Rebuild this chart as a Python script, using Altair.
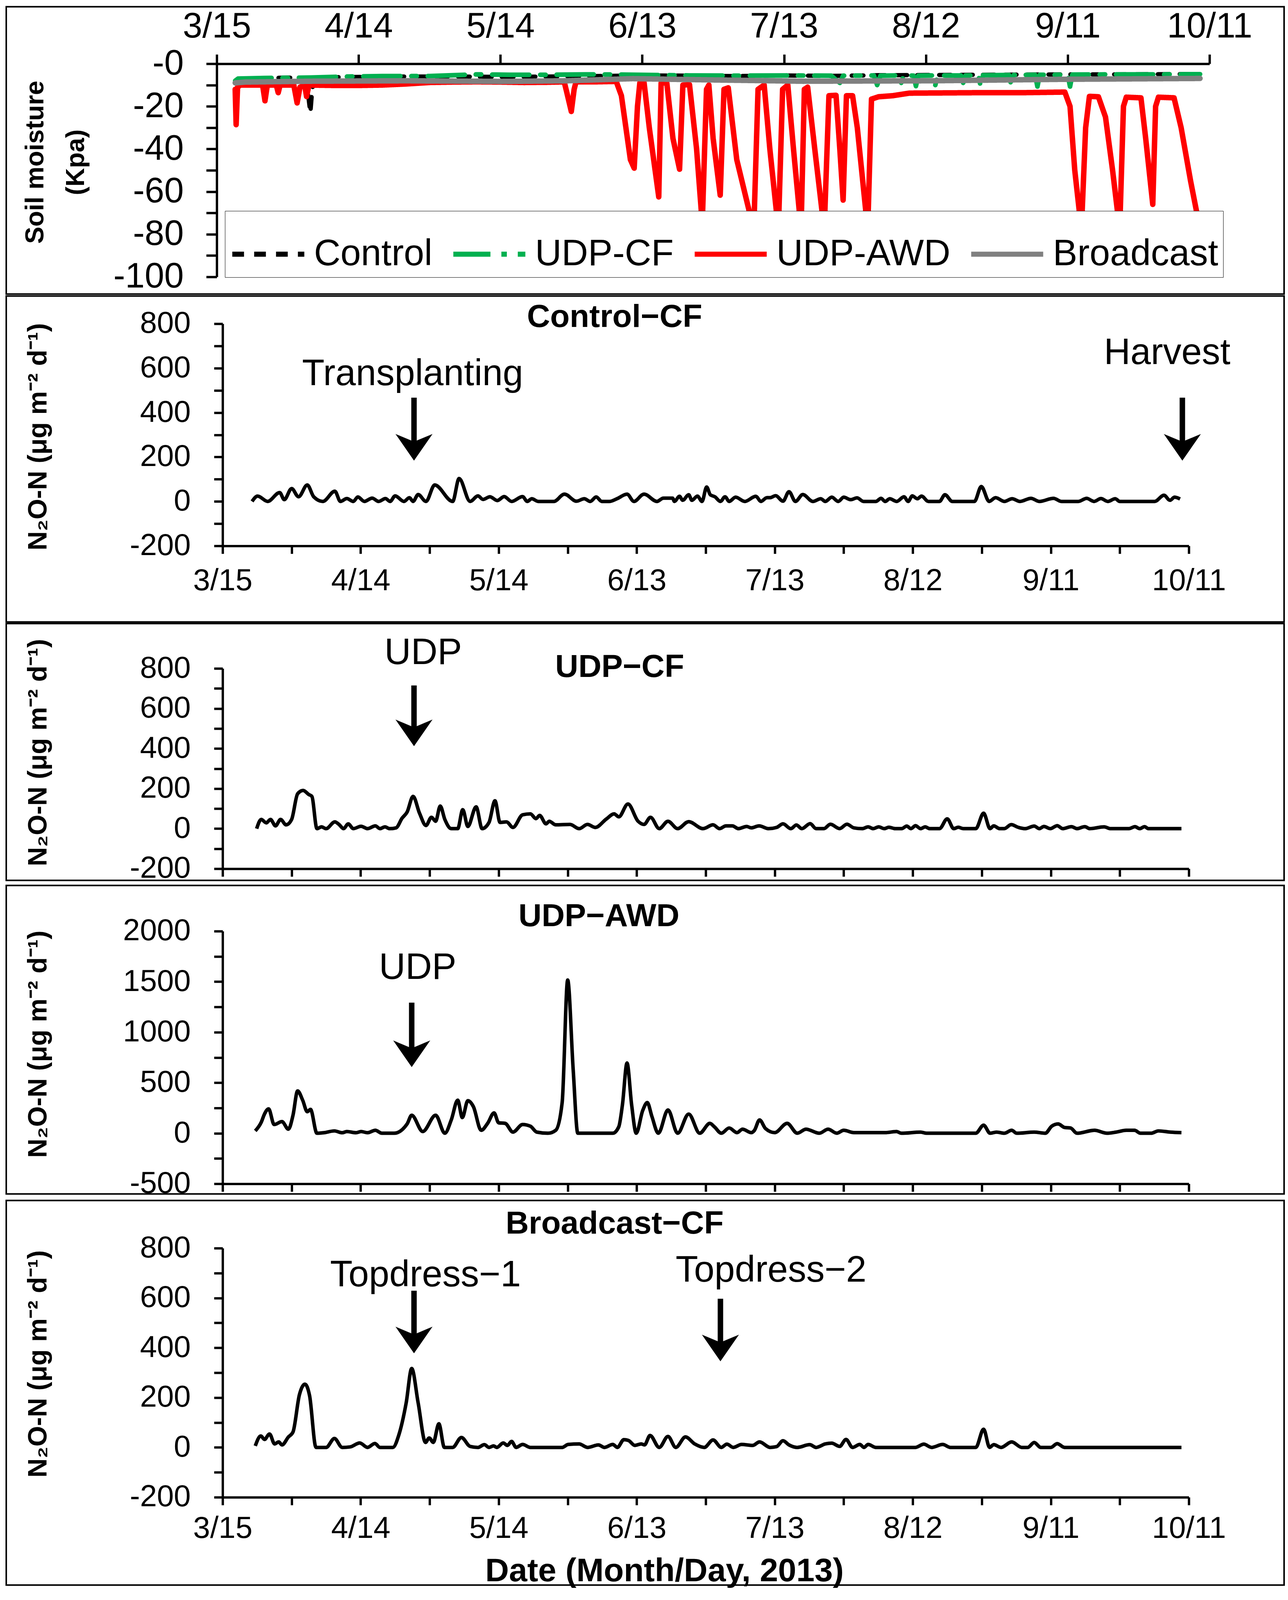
import altair as alt
import pandas as pd

FONT = "Liberation Sans"

# ---------------- shared x axis (days after 3/15/2013) ----------------
X_TICK_LABELS = ["3/15", "4/14", "5/14", "6/13", "7/13", "8/12", "9/11", "10/11"]

SERIES = ["Control", "UDP-CF", "UDP-AWD", "Broadcast"]
SERIES_COLORS = ["#000000", "#00B050", "#FF0000", "#808080"]

# ---------------- soil moisture (kPa), (day, value) ----------------
sm_control = [(3.9, -8), (5, -7), (10, -6.8), (15, -6.5), (18.8, -7), (19.3, -14), (19.8, -23),
              (20.2, -12), (20.7, -6.5), (25, -6.3), (30, -6.2), (40, -6), (50, -6), (60, -6.2),
              (70, -6), (80, -5.8), (90, -5.5), (100, -5.6), (110, -5.8), (120, -5.5), (130, -5.7),
              (140, -5.4), (150, -5.3), (160, -5.2), (170, -5.1), (180, -5), (190, -5), (200, -4.9),
              (208, -4.8)]
sm_udpcf = [(3.9, -8), (4.5, -7), (10, -6.7), (20, -6.5), (28, -6), (35, -5.8), (45, -5.8), (55, -5),
            (62, -5.2), (70, -5.2), (78, -5), (85, -5.1), (92, -5.3), (100, -5.5), (110, -5.6),
            (120, -5.5), (130, -5.6), (131.8, -9), (132.5, -5.6), (139, -5.5), (139.7, -10),
            (140.4, -5.6), (144.3, -5.5), (144.8, -9), (145.3, -5.5), (147.4, -5.6), (147.9, -10.5),
            (148.4, -5.6), (151.5, -5.5), (152, -10), (152.5, -5.5), (157.4, -5.5), (157.9, -9),
            (158.4, -5.5), (161.1, -5.4), (161.6, -10.7), (162.1, -5.4), (167.6, -5.3), (168.1, -10.5),
            (168.6, -5.3), (173.1, -5.2), (173.6, -10.7), (174.1, -5.2), (180, -5.2), (180.5, -10.7),
            (181, -5.1), (190, -5), (200, -5), (208, -4.9)]
sm_udpawd = [(3.9, -12), (4.1, -28.6), (4.4, -11), (5, -10), (9.7, -10), (10.2, -17.4), (10.7, -10),
             (12.6, -10), (13, -13.6), (13.4, -10), (16.3, -10), (17, -18.4), (17.6, -11), (18.6, -10),
             (19, -15.4), (19.5, -10), (25, -10.2), (30, -10.2), (35, -10), (40, -9.5), (45, -8.8),
             (50, -8.6), (55, -8.5), (60, -8.6), (65, -8.8), (70, -8.7), (73.5, -8.5), (74, -13),
             (75, -22.4), (75.6, -12), (76, -8.5), (80, -8.5), (84.5, -8.3), (85.6, -15), (87.5, -45),
             (88.3, -49), (89, -20), (89.5, -9), (90.4, -9), (91.5, -30), (93.5, -62.5), (94, -9),
             (95.2, -9), (96.5, -35), (97.9, -49.5), (98.6, -10), (100, -9.8), (101.5, -40),
             (102.7, -75), (103.6, -12), (104.1, -10), (105, -35), (106.5, -61.7), (107.3, -12),
             (108.2, -11.3), (110, -45), (113.6, -78), (114.5, -12), (115.8, -10), (117, -40),
             (118.8, -78), (119.7, -12), (120.8, -10), (122, -40), (123.6, -78), (124.3, -12),
             (125, -11), (126.5, -40), (128.5, -78), (129.5, -15), (131, -14.8), (131.8, -40),
             (132.5, -64), (133.2, -15), (134.5, -15), (135.5, -30), (137.7, -78), (138.5, -16.6),
             (140, -15.5), (143, -15), (146.5, -13.8), (160, -13.6), (170, -13.6), (179.4, -13.3),
             (180.5, -20), (181.5, -50), (182.9, -78), (183.8, -30), (184.6, -15.3), (186.5, -15.5),
             (188, -25), (189.5, -50), (191, -78), (191.8, -20), (192.4, -15.7), (195.5, -16),
             (196.5, -35), (198, -66), (198.6, -20), (199.2, -15.7), (202.5, -16), (204, -30),
             (206, -55), (207.5, -72)]
sm_broadcast = [(3.9, -9), (6, -8.6), (20, -8.2), (40, -8), (60, -8.3), (74, -8), (88, -7), (105, -7.6),
                (124, -8.2), (151, -8), (179, -7.3), (208, -6.9)]

# ---------------- N2O-N flux (ug m-2 d-1), (day, value) ----------------
n2o_control = [(6.4, 0), (7.6, 24), (9.8, 0), (12.4, 40), (13.4, 8), (15.0, 58), (16.5, 21), (18.4, 74),
               (19.8, 21), (21.8, 0), (24.4, 46), (25.6, 0), (27.0, 13), (28.4, 0), (29.4, 20), (30.8, 0),
               (32.5, 15), (33.9, 0), (35.4, 13), (36.4, 0), (37.5, 25), (39.4, 0), (40.6, 17), (41.4, 0),
               (42.5, 31), (44.2, 0), (46.1, 74), (50.0, 0), (51.4, 103), (53.8, 0), (55.5, 25), (56.6, 9),
               (58.1, 21), (59.7, 4), (61.2, 22), (62.8, 0), (65.2, 22), (66.2, 0), (67.2, 12), (68.6, 0),
               (72.0, 0), (74.3, 33), (76.9, 1), (78.6, 12), (79.9, 0), (81.2, 20), (82.4, 0), (84.1, 0),
               (85.8, 13), (87.9, 33), (89.4, 0), (91.6, 33), (94.4, 0), (95.8, 15), (97.8, 15), (98.2, 0),
               (99.3, 23), (100.0, 5), (101.3, 30), (102.0, 5), (103.2, 24), (104.2, 0), (105.2, 65),
               (106.0, 30), (107.0, 21), (108.2, 0), (109.2, 21), (110.1, 0), (111.5, 19), (113.5, 0),
               (115.9, 23), (117.0, 0), (118.3, 17), (119.0, 17), (120.2, 26), (121.8, 1), (123.1, 44),
               (124.5, 0), (126.1, 31), (128.3, 0), (130.0, 12), (131.0, 0), (132.4, 19), (133.8, 0),
               (135.0, 19), (136.5, 8), (137.9, 16), (139.3, 0), (142.0, 0), (143.1, 14), (144.0, 0),
               (145.0, 12), (146.5, 0), (148.1, 21), (149.0, 0), (149.9, 25), (151.0, 12), (151.9, 24),
               (153.4, 0), (155.8, 0), (157.0, 30), (158.6, 0), (163.4, 0), (164.9, 67), (166.6, 0),
               (168.0, 17), (169.9, 0), (171.6, 12), (173.3, 0), (175.7, 14), (177.5, 0), (180.6, 14),
               (182.3, 0), (186.0, 0), (187.8, 14), (189.4, 0), (190.9, 13), (192.4, 0), (194.0, 12),
               (195.0, 0), (202.6, 0), (204.6, 28), (205.9, 5), (206.9, 19), (208.1, 11)]
n2o_udpcf = [(7.4, 0), (8.4, 46), (9.5, 29), (10.4, 46), (11.5, 14), (12.6, 46), (13.8, 19), (15.0, 46),
             (16.3, 174), (17.5, 191), (18.7, 171), (19.4, 161), (20.5, 0), (21.5, 9), (22.5, 0),
             (24.4, 34), (25.3, 21), (26.3, 0), (27.3, 24), (28.4, 0), (30.1, 12), (31.5, 0), (33.2, 14),
             (34.2, 0), (35.3, 9), (36.3, 0), (37.7, 4), (39.0, 52), (40.1, 83), (41.4, 161), (42.8, 77),
             (44.2, 16), (45.4, 57), (46.3, 37), (47.3, 113), (48.3, 46), (49.7, 0), (51.1, 0), (52.2, 95),
             (53.3, 11), (55.1, 109), (56.4, 0), (57.9, 31), (59.2, 139), (60.3, 31), (61.7, 34),
             (63.1, 6), (65.2, 69), (66.9, 74), (68.1, 50), (68.9, 66), (70.3, 24), (71.0, 37), (72.4, 19),
             (75.5, 21), (77.5, 0), (79.3, 21), (81.0, 6), (83.4, 48), (85.1, 74), (86.1, 59), (88.1, 123),
             (90.3, 37), (91.6, 21), (93.0, 57), (94.9, 0), (96.8, 37), (98.9, 0), (101.3, 35), (104.4, 0),
             (106.6, 19), (108.0, 0), (109.4, 14), (110.8, 14), (112.1, 0), (113.9, 11), (114.9, 4),
             (116.6, 14), (118.7, 0), (120.4, 6), (121.8, 24), (123.5, 0), (124.7, 18), (125.9, 0),
             (127.7, 25), (129.0, 0), (130.7, 0), (132.1, 22), (134.1, 0), (135.7, 22), (137.2, 4),
             (139.0, 0), (140.3, 9), (141.4, 0), (142.6, 9), (143.8, 0), (144.8, 7), (146.2, 0),
             (147.6, 0), (148.7, 13), (149.6, 0), (150.6, 15), (151.7, 0), (152.7, 9), (153.7, 0),
             (155.8, 0), (157.5, 49), (158.9, 0), (159.9, 7), (161.0, 0), (163.7, 0), (165.4, 77),
             (166.8, 0), (167.6, 14), (168.9, 0), (169.9, 0), (171.4, 20), (173.0, 6), (174.4, 0),
             (176.4, 13), (177.5, 0), (178.5, 11), (179.9, 0), (181.4, 15), (182.6, 0), (184.5, 10),
             (185.7, 0), (187.4, 10), (188.5, 0), (191.6, 9), (193.0, 0), (197.0, 0), (198.3, 10),
             (199.3, 0), (200.4, 10), (201.2, 0), (208.4, 0)]
n2o_udpawd = [(7.1, 23), (8.4, 109), (9.1, 190), (10.0, 241), (11.2, 86), (12.9, 115), (14.3, 40),
              (15.3, 178), (16.3, 419), (17.4, 327), (18.4, 213), (19.1, 236), (20.5, 0), (22.0, 5),
              (24.3, 23), (26.0, 5), (27.0, 17), (29.0, 5), (30.1, 17), (31.5, 5), (33.2, 29), (34.6, 0),
              (37.3, 0), (40.1, 92), (41.1, 178), (43.5, 17), (46.3, 178), (48.3, 0), (49.7, 132),
              (51.1, 327), (52.1, 155), (53.3, 322), (54.5, 264), (56.2, 29), (57.6, 98), (59.0, 201),
              (60.0, 103), (61.4, 98), (63.1, 11), (65.2, 86), (66.9, 69), (68.3, 11), (70.7, 0),
              (72.4, 29), (73.8, 304), (75.0, 1517), (76.2, 626), (77.2, 0), (79.6, 0), (84.8, 0),
              (86.1, 63), (86.9, 281), (87.9, 695), (88.9, 281), (89.9, 0), (91.3, 224), (92.3, 304),
              (93.3, 167), (94.7, 0), (96.8, 230), (98.9, 0), (101.3, 190), (103.7, 0), (105.9, 98),
              (106.9, 63), (108.4, 0), (110.1, 52), (111.8, 6), (113.0, 40), (114.9, 6), (115.6, 29),
              (116.7, 132), (118.0, 46), (120.0, 6), (122.7, 98), (124.9, 0), (126.8, 40), (129.7, 0),
              (131.6, 40), (133.5, 0), (135.0, 29), (137.2, 6), (144.0, 6), (146.5, 17), (147.5, 0),
              (151.7, 11), (153.0, 0), (163.7, 0), (165.4, 80), (166.8, 0), (168.2, 11), (169.9, 0),
              (171.5, 29), (172.6, 0), (176.4, 11), (178.8, 0), (180.2, 69), (181.6, 92), (183.0, 57),
              (184.3, 52), (185.7, 0), (189.5, 29), (192.2, 0), (194.2, 11), (196.4, 29), (198.2, 29),
              (199.5, 0), (201.8, 0), (203.4, 23), (206.0, 11), (208.4, 6)]
n2o_broadcast = [(7.1, 6), (8.3, 46), (9.1, 32), (10.2, 54), (11.3, 14), (12.2, 22), (12.9, 10),
                 (14.3, 42), (15.3, 62), (16.7, 212), (17.9, 254), (18.9, 208), (20.3, 0), (22.5, 0),
                 (24.3, 36), (26.0, 0), (27.7, 2), (29.8, 18), (31.5, 0), (33.1, 16), (34.2, 0), (37.0, 0),
                 (38.3, 50), (39.9, 179), (41.1, 317), (42.5, 179), (44.1, 20), (44.9, 38), (45.8, 20),
                 (47.0, 95), (48.2, 0), (50.0, 0), (51.9, 40), (53.8, 4), (55.5, 0), (56.9, 11), (57.9, 0),
                 (58.9, 6), (59.6, 0), (61.0, 18), (61.9, 8), (62.8, 24), (63.8, 0), (65.2, 12), (66.9, 0),
                 (73.8, 0), (75.1, 12), (77.5, 14), (79.3, 0), (81.7, 10), (83.0, 0), (84.8, 12), (85.8, 0),
                 (87.2, 31), (88.2, 28), (89.6, 8), (91.0, 14), (91.7, 10), (92.9, 48), (94.9, 0),
                 (96.8, 44), (98.5, 0), (100.6, 42), (102.6, 14), (104.7, 0), (106.6, 30), (108.4, 0),
                 (109.6, 13), (111.0, 0), (112.8, 12), (115.2, 8), (116.7, 22), (119.0, 0), (120.4, 3),
                 (121.8, 27), (123.1, 10), (124.9, 0), (127.6, 11), (129.0, 0), (131.0, 14), (132.4, 17),
                 (134.1, 4), (135.5, 32), (136.9, 0), (138.5, 12), (139.4, 0), (140.3, 12), (142.0, 0),
                 (150.6, 0), (152.4, 13), (154.1, 0), (156.5, 12), (158.2, 0), (163.7, 0), (165.4, 73),
                 (166.7, 0), (167.6, 11), (169.2, 0), (171.5, 22), (173.7, 0), (175.0, 0), (176.4, 20),
                 (177.8, 0), (180.0, 0), (181.4, 15), (183.0, 0), (208.4, 0)]

# ---------------- annotations: (day, value, text) and arrows: (day, top, tip) ----------------
control_title = [(85.2, 829, "Control\u2212CF")]
control_notes = [(41.3, 573, "Transplanting"), (205.3, 668, "Harvest")]
control_arrows = [(41.6, 467, 184), (208.6, 467, 184)]

udpcf_title = [(86.3, 806, "UDP\u2212CF")]
udpcf_notes = [(43.6, 877, "UDP")]
udpcf_arrows = [(41.6, 715, 412)]

udpawd_title = [(81.8, 2145, "UDP\u2212AWD")]
udpawd_notes = [(42.4, 1635, "UDP")]
udpawd_arrows = [(41.1, 1293, 655)]

broadcast_title = [(85.2, 897, "Broadcast\u2212CF")]
broadcast_notes = [(44.1, 690, "Topdress\u22121"), (119.2, 710, "Topdress\u22122")]
broadcast_arrows = [(41.6, 629, 378), (108.2, 597, 346)]

Y_TITLE_N2O = "N\u2082O-N (\u03bcg m\u207b\u00b2 d\u207b\u00b9)"
BOX_W = 3272
X_LABEL_EXPR = "datum.value % 30 == 0 ? " + str(X_TICK_LABELS) + "[datum.value / 30] : ''"
HEAD = "M0,0.72L-1,-0.72L0,-0.3L1,-0.72Z"


def pairs_df(pairs, series=None):
    d = pd.DataFrame({"day": [p[0] for p in pairs], "v": [p[1] for p in pairs]})
    if series is not None:
        d["series"] = series
    return d


# ---------------- panel 1: soil moisture ----------------
x1 = alt.X("day:Q",
           scale=alt.Scale(domain=[0, 210], range=[539, 3081], nice=False, zero=False),
           axis=alt.Axis(orient="top", values=list(range(0, 211, 30)), labelExpr=X_LABEL_EXPR,
                         offset=-146, tickSize=24, labelPadding=25, labelFontSize=90, title=None))
y1 = alt.Y("v:Q",
           scale=alt.Scale(domain=[-100, 0], range=[692, 146], nice=False, zero=False),
           axis=alt.Axis(values=list(range(-100, 1, 10)),
                         labelExpr="datum.value % 20 == 0 ? '-' + abs(datum.value) : ''",
                         offset=-539, tickSize=27, labelPadding=58, labelFontSize=90,
                         title=["Soil moisture", "(Kpa)"], titleX=-464, titleY=398,
                         titleBaseline="middle", titleLineHeight=104, titleFontSize=66))
sm_df = pd.concat([pairs_df(sm_control, "Control"), pairs_df(sm_udpcf, "UDP-CF"),
                   pairs_df(sm_udpawd, "UDP-AWD"), pairs_df(sm_broadcast, "Broadcast")])
leg = alt.Legend(orient="none", legendX=560, legendY=523, direction="horizontal", title=None,
                 fillColor="white", strokeColor="black", padding=12, zindex=5,
                 labelFont=FONT, labelFontSize=94, labelColor="black", labelLimit=3000,
                 symbolType="stroke", symbolSize=34000, symbolStrokeWidth=13,
                 columnPadding=26, labelOffset=18)
color = alt.Color("series:N", scale=alt.Scale(domain=SERIES, range=SERIES_COLORS), legend=leg)
dash = alt.StrokeDash("series:N",
                      scale=alt.Scale(domain=SERIES, range=[[30, 26], [95, 28, 14, 28], [1, 0], [1, 0]]),
                      legend=leg)
base1 = alt.Chart(sm_df).encode(x=x1, y=y1, color=color, strokeDash=dash)
widths = {"Control": 11, "UDP-CF": 12, "UDP-AWD": 14, "Broadcast": 14}
p1 = alt.layer(*[
    base1.transform_filter(alt.datum.series == s).mark_line(strokeWidth=widths[s], strokeCap="round",
                                                           strokeJoin="round")
    for s in SERIES
]).properties(width=BOX_W, height=736)


# ---------------- N2O panels ----------------
def n2o_panel(pairs, ydom, ystep, ylab, box_h, yrange, ytitle_y, title, notes, arrows,
              x_labels=False, x_title=None, label_pad=31):
    xa = dict(orient="bottom", values=list(range(0, 211, 15)), offset=-(box_h - yrange[0]),
              tickSize=20, labelPadding=label_pad, labels=x_labels)
    if x_labels:
        xa["labelExpr"] = X_LABEL_EXPR
    if x_title:
        xa.update(title=x_title, titleX=1685, titleY=190, titleBaseline="middle", titleFontSize=84)
    else:
        xa["title"] = None
    X = alt.X("day:Q", scale=alt.Scale(domain=[0, 210], range=[554, 3028], nice=False, zero=False),
              axis=alt.Axis(**xa))
    Y = alt.Y("v:Q", scale=alt.Scale(domain=ydom, range=list(yrange), nice=False, zero=False),
              axis=alt.Axis(values=list(range(ydom[0], ydom[1] + 1, ystep)),
                            labelExpr=("datum.value % " + str(ylab) +
                                       " == 0 ? (datum.value < 0 ? '-' + abs(datum.value) : '' + datum.value) : ''"),
                            offset=-554, tickSize=22, labelPadding=60,
                            title=Y_TITLE_N2O, titleX=83 - 554, titleY=ytitle_y,
                            titleBaseline="middle", titleFontSize=68))
    line = alt.Chart(pairs_df(pairs)).mark_line(color="black", strokeWidth=9, interpolate="monotone",
                                                strokeJoin="round").encode(x=X, y=Y)
    tdf = pd.DataFrame({"day": [t[0] for t in title], "v": [t[1] for t in title],
                        "label": [t[2] for t in title]})
    ttl = alt.Chart(tdf).mark_text(font=FONT, fontSize=82, fontWeight="bold", color="black",
                                   align="center", baseline="middle").encode(x=X, y=Y, text="label:N")
    ndf = pd.DataFrame({"day": [t[0] for t in notes], "v": [t[1] for t in notes],
                        "label": [t[2] for t in notes]})
    nts = alt.Chart(ndf).mark_text(font=FONT, fontSize=94, color="black",
                                   align="center", baseline="middle").encode(x=X, y=Y, text="label:N")
    adf = pd.DataFrame({"day": [a[0] for a in arrows], "v": [a[1] for a in arrows],
                        "v2": [a[2] for a in arrows]})
    shaft = alt.Chart(adf).mark_rule(color="black", strokeWidth=14, y2Offset=-36).encode(
        x=X, y=Y, y2="v2:Q")
    hdf = pd.DataFrame({"day": [a[0] for a in arrows], "v": [a[2] for a in arrows]})
    head = alt.Chart(hdf).mark_point(shape=HEAD, size=9000, filled=True, color="black", opacity=1,
                                     strokeWidth=0, yOffset=-34).encode(x=X, y=Y)
    return alt.layer(line, shaft, head, nts, ttl).properties(width=BOX_W, height=box_h)


p2 = n2o_panel(n2o_control, [-200, 800], 100, 200, 835, (640, 71), 360,
               control_title, control_notes, control_arrows, x_labels=True)
p3 = n2o_panel(n2o_udpcf, [-200, 800], 100, 200, 658, (628, 115), 330,
               udpcf_title, udpcf_notes, udpcf_arrows)
p4 = n2o_panel(n2o_udpawd, [-500, 2000], 250, 500, 790, (764, 117), 406,
               udpawd_title, udpawd_notes, udpawd_arrows)
p5 = n2o_panel(n2o_broadcast, [-200, 800], 100, 200, 985, (760, 122), 418,
               broadcast_title, broadcast_notes, broadcast_arrows, x_labels=True,
               x_title="Date (Month/Day, 2013)", label_pad=22)

chart = alt.vconcat(p1, p2, p3, p4, p5, spacing=0).properties(
    padding={"left": 6, "top": 6, "right": 0, "bottom": 0},
    background="white",
).configure_axis(
    labelFont=FONT, labelFontSize=78, labelColor="black", labelOverlap=False, labelFlush=False,
    labelLimit=1000, titleLimit=3000,
    titleFont=FONT, titleFontWeight="bold", titleColor="black",
    domainColor="black", domainWidth=6, tickColor="black", tickWidth=6, grid=False,
).configure_view(stroke="black", strokeWidth=4)

chart.save("out.html", embed_options={"renderer": "svg", "actions": False})
